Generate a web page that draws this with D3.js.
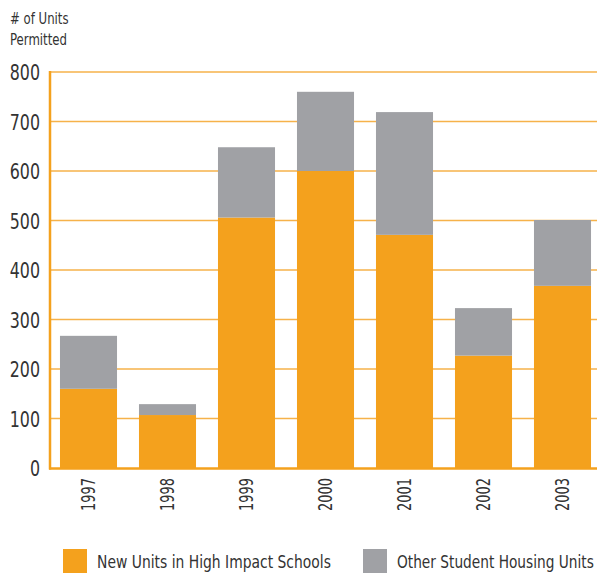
<!DOCTYPE html>
<html><head><meta charset="utf-8">
<script src="https://cdn.jsdelivr.net/npm/d3@7"></script>
<style>
body{margin:0;background:#fff;}
text{font-family:"Liberation Sans Narrow","Arial Narrow","DejaVu Sans Condensed",sans-serif;fill:#333;}
</style></head>
<body><svg id="c" width="597" height="573"></svg>
<script>
const years = ["1997","1998","1999","2000","2001","2002","2003"];
const highImpact = [160, 107, 506, 600, 471, 227, 368];
const otherUnits = [107, 22, 142, 160, 248, 96, 133];
const yTicks = [0,100,200,300,400,500,600,700,800];
const seriesNames = ["New Units in High Impact Schools","Other Student Housing Units"];
const colors = ["#f4a11d","#a0a1a5"];

const svg = d3.select("#c");
const x = d3.scaleBand().domain(years).range([49, 602]).paddingInner(0.278).paddingOuter(0.139);
const y = d3.scaleLinear().domain([0, 800]).range([468, 72]);

// gridlines
svg.append("g").selectAll("line").data(yTicks.filter(d=>d>0)).join("line")
  .attr("x1", 49).attr("x2", 597).attr("y1", d=>y(d)).attr("y2", d=>y(d))
  .attr("stroke", "#f6b24a").attr("stroke-width", 1.6);

// stacked data
const rows = years.map((yr,i)=>({year:yr, a:highImpact[i], b:otherUnits[i]}));
const stack = d3.stack().keys(["a","b"])(rows);
svg.append("g").selectAll("g").data(stack).join("g").attr("fill",(d,i)=>colors[i])
  .selectAll("rect").data(d=>d).join("rect")
  .attr("x", d=>x(d.data.year)).attr("width", x.bandwidth())
  .attr("y", d=>y(d[1])).attr("height", d=>y(d[0])-y(d[1]));

// axes lines
svg.append("line").attr("x1",50).attr("x2",50).attr("y1",71).attr("y2",469.5)
  .attr("stroke","#f4a11d").attr("stroke-width",2.5);
svg.append("line").attr("x1",49).attr("x2",597).attr("y1",468.5).attr("y2",468.5)
  .attr("stroke","#f4a11d").attr("stroke-width",2.5);

// y tick labels via axis
const yAxis = svg.append("g").attr("transform","translate(40,0)")
  .call(d3.axisLeft(y).tickValues(yTicks).tickSize(0).tickPadding(0));
yAxis.select(".domain").remove();
yAxis.selectAll("text").style("font-size","22px").attr("fill","#333")
  .attr("x",0).attr("dy","0.36em").attr("transform","scale(0.8,1)");

// x labels
const xAxis = svg.append("g").attr("transform","translate(0,478)")
  .call(d3.axisBottom(x).tickSize(0).tickPadding(0));
xAxis.select(".domain").remove();
xAxis.selectAll("text").style("font-size","19px").attr("fill","#333")
  .attr("transform","rotate(-90) scale(0.76,1)").attr("text-anchor","end")
  .attr("x",0).attr("y",0).attr("dy","0.36em");

// title
svg.append("text").attr("transform","translate(10,24) scale(0.87,1)").style("font-size","15px").text("# of Units");
svg.append("text").attr("transform","translate(10,45) scale(0.87,1)").style("font-size","15px").text("Permitted");

// legend
const leg = [{x:63, tx:97, w:234},{x:363, tx:397, w:197}];
leg.forEach((l,i)=>{
  svg.append("rect").attr("x",l.x).attr("y",549).attr("width",24).attr("height",24).attr("fill",colors[i]);
  const t = svg.append("text").style("font-size","18px").text(seriesNames[i]);
  const nat = t.node().getComputedTextLength();
  t.attr("transform",`translate(${l.tx},568) scale(${l.w/nat},1)`);
});
</script></body></html>
